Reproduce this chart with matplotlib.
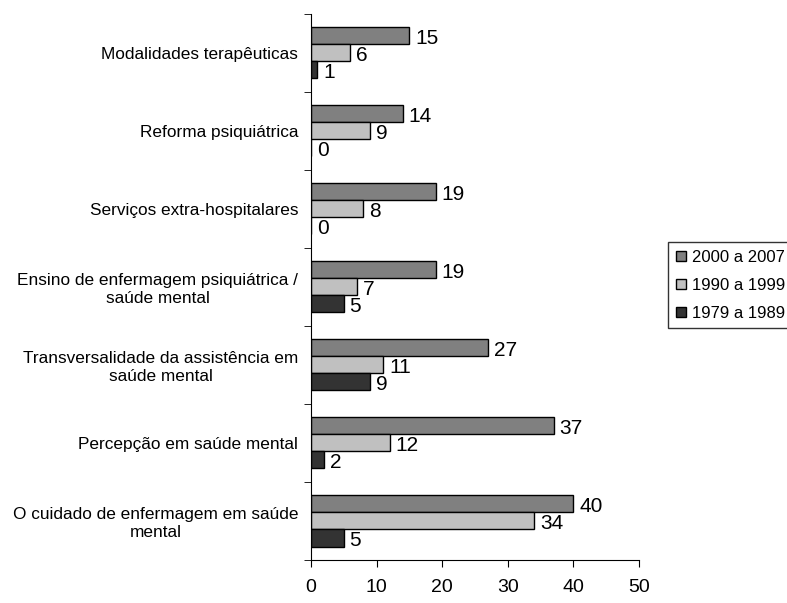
import matplotlib.pyplot as plt
import numpy as np

plt.rcParams['font.family'] = ['Liberation Sans', 'DejaVu Sans']

categorias = ["Modalidades terapêuticas",
              "Reforma psiquiátrica",
              "Serviços extra-hospitalares",
              "Ensino de enfermagem psiquiátrica /\nsaúde mental",
              "Transversalidade da assistência em\nsaúde mental",
              "Percepção em saúde mental",
              "O cuidado de enfermagem em saúde\nmental"]
p2000 = [15, 14, 19, 19, 27, 37, 40]
p1990 = [6, 9, 8, 7, 11, 12, 34]
p1979 = [1, 0, 0, 5, 9, 2, 5]
series = ["2000 a 2007", "1990 a 1999", "1979 a 1989"]
cores = ["#808080", "#c0c0c0", "#333333"]

fig = plt.figure(figsize=(7.87, 6.03), dpi=100)
ax = fig.add_axes([0.395, 0.0713, 0.417, 0.906])

y = np.arange(len(categorias))
h = 0.218
for k, (vals, nome, cor) in enumerate(zip([p2000, p1990, p1979], series, cores)):
    pos = y + (k - 1) * h
    ax.barh(pos, vals, height=h, color=cor, edgecolor='black', linewidth=1, label=nome)
    for p, v in zip(pos, vals):
        ax.text(v + 0.9, p + 0.03, str(v), va='center', ha='left', fontsize=15)

ax.set_xlim(0, 50)
ax.set_ylim(len(categorias) - 0.5, -0.5)
ax.set_xticks(range(0, 51, 10))
ax.tick_params(axis='x', length=5, pad=9, labelsize=14)
ax.set_yticks(y)
ax.set_yticklabels(categorias, fontsize=12.4, multialignment='center')
ax.tick_params(axis='y', which='major', length=0, pad=9)
ax.set_yticks(np.arange(-0.5, len(categorias)), minor=True)
ax.tick_params(axis='y', which='minor', length=5)
for s in ['top', 'right']:
    ax.spines[s].set_visible(False)

fig.legend(loc='upper left', bbox_to_anchor=(0.849, 0.598), fontsize=12,
           frameon=True, fancybox=False, edgecolor='black', handlelength=0.6,
           handleheight=0.6, handletextpad=0.4, borderpad=0.45, labelspacing=0.78,
           borderaxespad=0)

fig.savefig('out.png', dpi=100)
